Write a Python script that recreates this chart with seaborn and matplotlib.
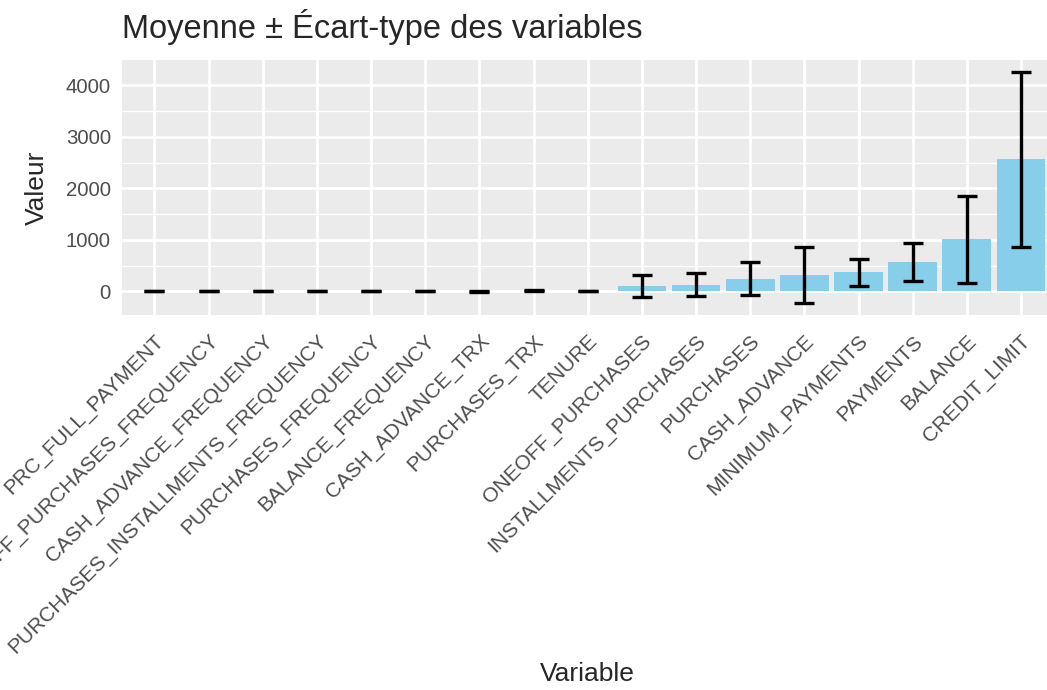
import numpy as np
import pandas as pd
import matplotlib
matplotlib.use("Agg")
import matplotlib.pyplot as plt
from matplotlib.ticker import MultipleLocator
import seaborn as sns

# data (mean and standard deviation per variable)
categories = ["PRC_FULL_PAYMENT", "ONEOFF_PURCHASES_FREQUENCY", "CASH_ADVANCE_FREQUENCY",
              "PURCHASES_INSTALLMENTS_FREQUENCY", "PURCHASES_FREQUENCY", "BALANCE_FREQUENCY",
              "CASH_ADVANCE_TRX", "PURCHASES_TRX", "TENURE", "ONEOFF_PURCHASES",
              "INSTALLMENTS_PURCHASES", "PURCHASES", "CASH_ADVANCE", "MINIMUM_PAYMENTS",
              "PAYMENTS", "BALANCE", "CREDIT_LIMIT"]
means = [0.15, 0.2, 0.14, 0.36, 0.49, 0.88, 3.2, 14.7, 11.5,
         105, 132, 250, 320, 375, 575, 1015, 2565]
sds = [0.29, 0.3, 0.2, 0.4, 0.4, 0.24, 6.8, 15, 1.3,
       220, 222, 317, 552, 260, 375, 845, 1705]

df = pd.DataFrame({"Variable": categories, "Valeur": means, "sd": sds})

sns.set_theme(style="darkgrid", rc={
    "axes.facecolor": "#EBEBEB",
    "grid.color": "white",
})
plt.rcParams["font.family"] = ["Liberation Sans", "DejaVu Sans"]

fig = plt.figure(figsize=(10.47, 6.9), dpi=100)
ax = fig.add_axes([0.1165, 0.5435, 0.8897, 0.3696])

sns.barplot(data=df, x="Variable", y="Valeur", color="#87CEEB", width=0.9,
            saturation=1, linewidth=0, ax=ax, zorder=2)
ax.errorbar(df["Variable"], df["Valeur"], yerr=df["sd"], fmt="none",
            ecolor="black", elinewidth=2.4, capsize=7.0, capthick=2.4, zorder=3)

# ggplot-like limits (5% expansion on y, 0.6 on discrete x)
lo = (df["Valeur"] - df["sd"]).min()
hi = (df["Valeur"] + df["sd"]).max()
pad = 0.05 * (hi - lo)
ax.set_ylim(lo - pad, hi + pad)
ax.set_xlim(-0.6, len(categories) - 0.4)

ax.yaxis.set_major_locator(MultipleLocator(1000))
ax.yaxis.set_minor_locator(MultipleLocator(500))
ax.grid(which="major", color="white", linewidth=2.0)
ax.grid(which="minor", axis="y", color="white", linewidth=1.0)
ax.set_axisbelow(True)

ax.tick_params(axis="y", which="major", length=4.5, width=1.1, color="#333333",
               labelsize=14.7, labelcolor="#4D4D4D", pad=3.5)
ax.tick_params(axis="x", which="major", length=4.5, width=1.1, color="#333333",
               labelsize=15, labelcolor="#4D4D4D", pad=7.5)
ax.tick_params(which="minor", length=0)
plt.setp(ax.get_xticklabels(), rotation=45, ha="right", va="top",
         rotation_mode="anchor")

for s in ax.spines.values():
    s.set_visible(False)

ax.set_title("Moyenne ± Écart-type des variables", loc="left", fontsize=23.5, pad=16)
ax.set_xlabel("Variable", fontsize=19, labelpad=3)
ax.set_ylabel("Valeur", fontsize=19, labelpad=12)

fig.savefig("out.png", dpi=100)
